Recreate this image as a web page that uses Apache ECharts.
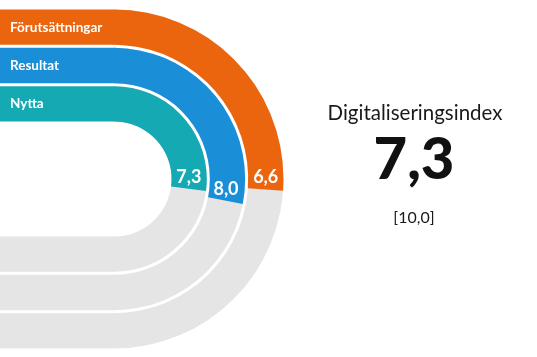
<!DOCTYPE html>
<html><head><meta charset="utf-8">
<script src="https://cdn.jsdelivr.net/npm/echarts@6/dist/echarts.min.js"></script>
<style>html,body{margin:0;padding:0;background:#fff}#c{width:537px;height:357px}</style>
</head><body><div id="c"></div>
<script>
// ---- data (inner band -> outer band) ----
const categories = ['Nytta', 'Resultat', 'Förutsättningar'];
const values = [7.3, 8.0, 6.6];
const indexTitle = 'Digitaliseringsindex';
const indexValue = 7.3;
const indexMax = 10.0;
// scale of the curved part of the track (top -> bottom)
const trackMin = -12.2;
const trackMax = 23.8;

const colors = ['#14A9B3', '#1A8FD8', '#EA650E'];
const grey = '#E5E5E5';
const font = 'Lato, "Open Sans", sans-serif';
const fmt = v => v.toFixed(1).replace('.', ',');

const chart = echarts.init(document.getElementById('c'), null, {renderer: 'canvas'});
const hidden = {show: false, axisLine: {show: false}, axisTick: {show: false}, axisLabel: {show: false}, splitLine: {show: false}};

chart.setOption({
  animation: false,
  grid: [
    {left: 0, top: 8, width: 115, height: 115},
    {left: 0, top: 235, width: 115, height: 115}
  ],
  xAxis: [
    Object.assign({type: 'value', gridIndex: 0, min: 0, max: indexMax}, hidden),
    Object.assign({type: 'value', gridIndex: 1, min: 0, max: indexMax}, hidden)
  ],
  yAxis: [
    Object.assign({type: 'category', gridIndex: 0, data: categories}, hidden),
    Object.assign({type: 'category', gridIndex: 1, data: categories, inverse: true}, hidden)
  ],
  polar: {center: [114, 179], radius: [56, 171]},
  angleAxis: Object.assign({type: 'value', min: trackMin, max: trackMax, startValue: trackMin,
    startAngle: 90, endAngle: -90, clockwise: true}, hidden),
  radiusAxis: Object.assign({type: 'category', data: categories}, hidden),
  series: [
    {
      type: 'bar', xAxisIndex: 0, yAxisIndex: 0, barCategoryGap: '8%',
      data: categories.map((c, i) => ({value: indexMax, itemStyle: {color: colors[i]}})),
      label: {show: true, position: 'insideLeft', distance: 10, formatter: p => p.name,
        color: '#fff', fontWeight: 'bold', fontSize: 13.5, fontFamily: font}
    },
    {
      type: 'bar', xAxisIndex: 1, yAxisIndex: 1, barCategoryGap: '8%',
      data: categories.map(() => indexMax), itemStyle: {color: grey}
    },
    {
      type: 'bar', coordinateSystem: 'polar', barCategoryGap: '8%', barGap: '-100%',
      data: categories.map(() => trackMax), itemStyle: {color: grey}
    },
    {
      type: 'bar', coordinateSystem: 'polar', barCategoryGap: '8%', barGap: '-100%',
      data: values.map((v, i) => ({value: v, itemStyle: {color: colors[i]}})),
      label: {show: true, position: 'insideEnd', rotate: 0, distance: 3, align: 'center', verticalAlign: 'bottom',
        formatter: p => fmt(p.value), color: '#fff', fontWeight: 'bold', fontSize: 18, fontFamily: font}
    }
  ],
  graphic: [
    {type: 'text', x: 415, y: 113, style: {text: indexTitle, align: 'center', verticalAlign: 'middle',
      font: 'normal 20.5px ' + font, fill: '#1a1a1a'}},
    {type: 'text', x: 414, y: 160, style: {text: fmt(indexValue), align: 'center', verticalAlign: 'middle',
      font: '900 58px ' + font, fill: '#111'}},
    {type: 'text', x: 414, y: 218, style: {text: '[' + fmt(indexMax) + ']', align: 'center', verticalAlign: 'middle',
      font: 'normal 16px ' + font, fill: '#1a1a1a'}}
  ]
});
</script></body></html>
